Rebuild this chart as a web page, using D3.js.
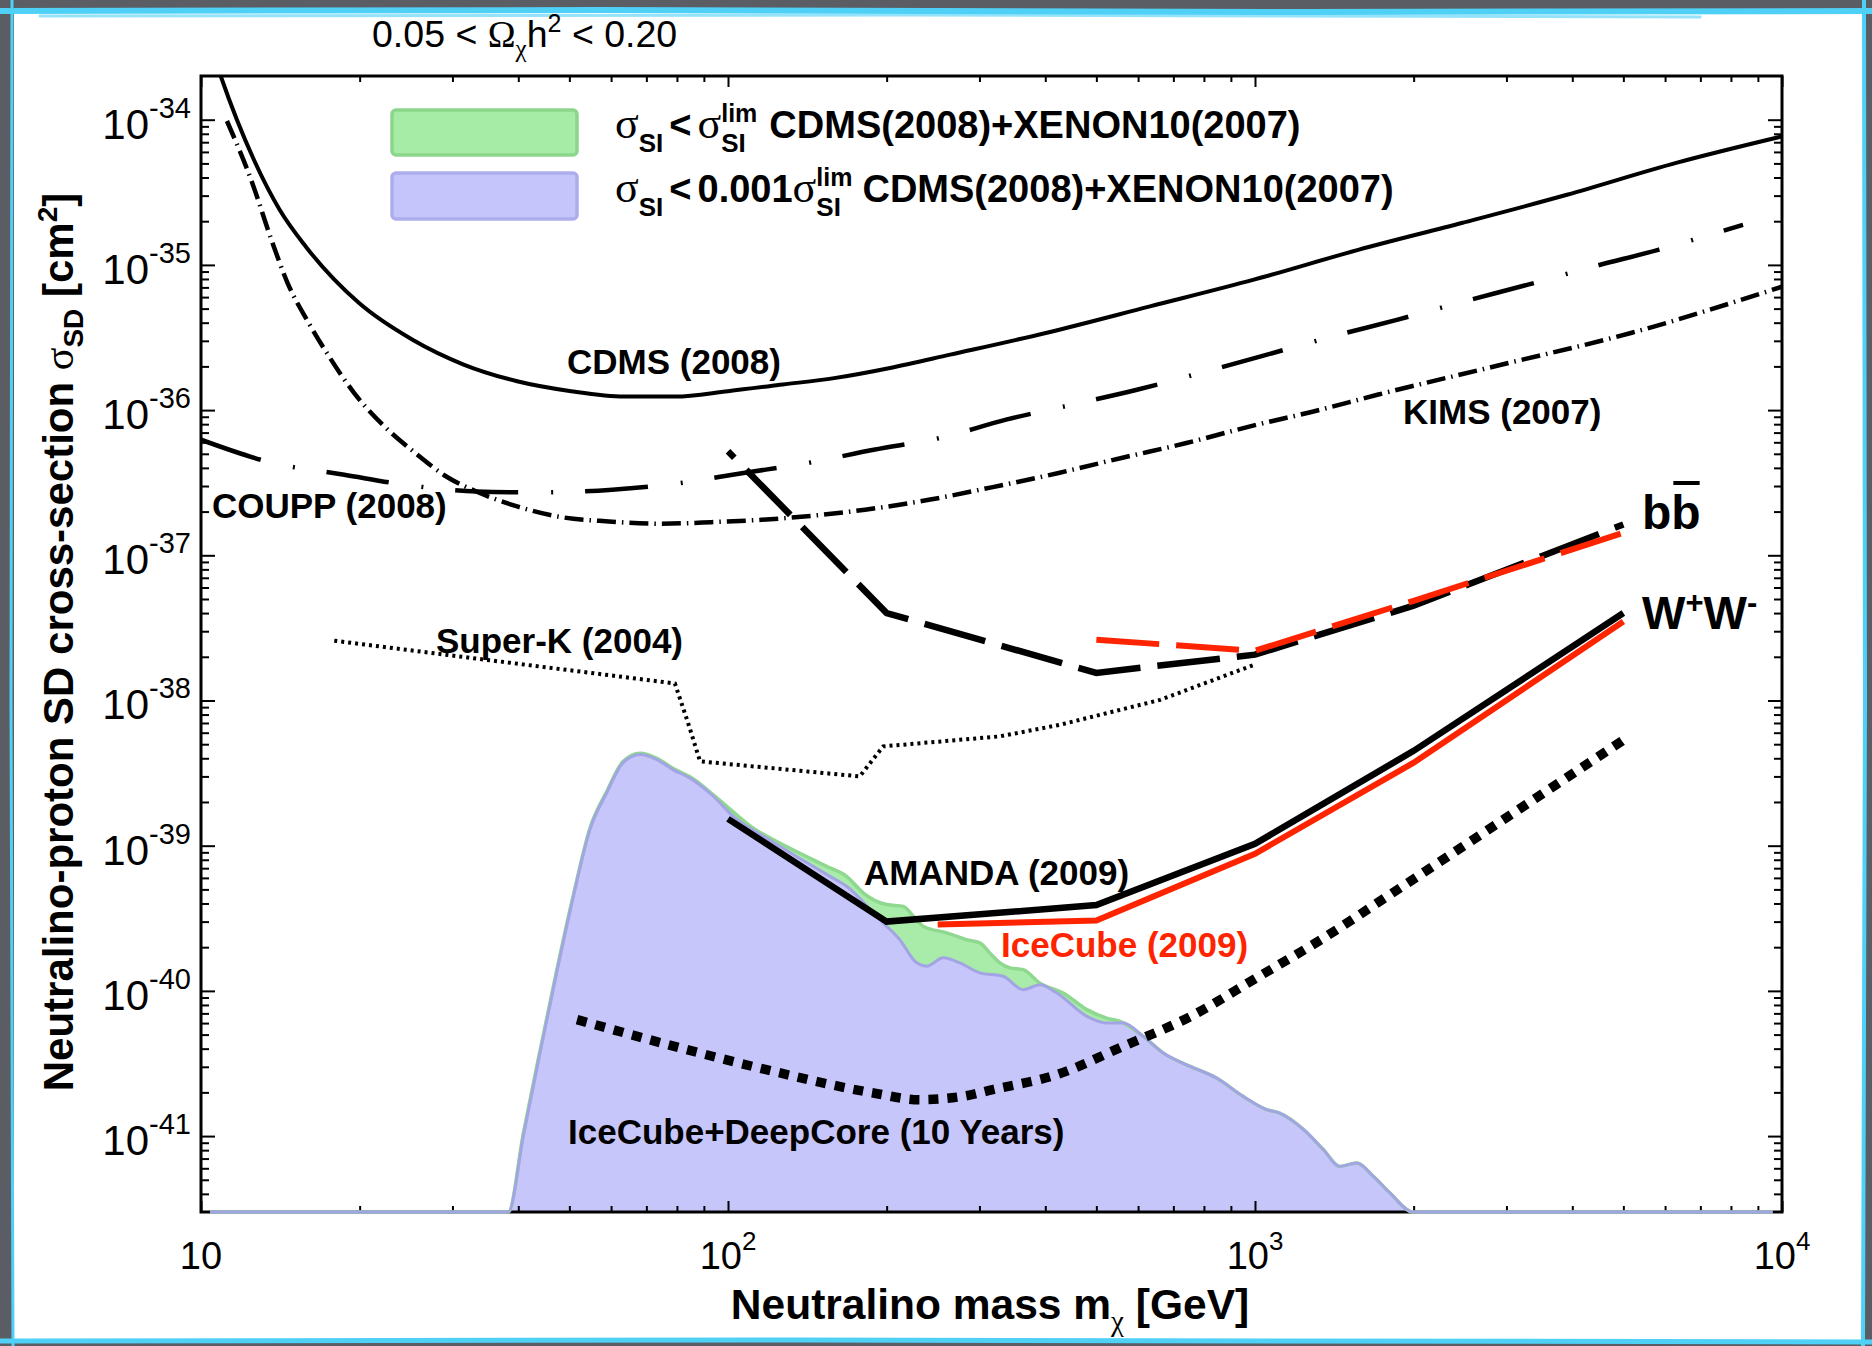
<!DOCTYPE html>
<html>
<head>
<meta charset="utf-8">
<script src="https://d3js.org/d3.v7.min.js"></script>
<style>
  html, body { margin: 0; padding: 0; background: #5a5d63; overflow: hidden; }
  svg { display: block; }
</style>
</head>
<body>
<svg id="chart"></svg>
<script>
// neutralino mass [GeV] and SD cross-section [cm^2]
var cdmsMass  = [10.6, 10.9, 12.6, 14.1, 15.8, 19.9, 25.2, 31.5, 39.8, 50.4, 63.6, 79.4, 100, 127, 159, 203, 264, 401, 632, 995, 1570, 2477, 3908, 6324, 10000];
var cdmsSigma = [2.7e-34, 2.0e-34, 5.3e-35, 2.4e-35, 1.34e-35, 5.5e-36, 3.05e-36, 2.06e-36, 1.58e-36, 1.35e-36, 1.24e-36, 1.24e-36, 1.35e-36, 1.50e-36, 1.66e-36, 1.95e-36, 2.41e-36, 3.40e-36, 5.18e-36, 7.91e-36, 1.27e-35, 1.95e-35, 3.04e-35, 5.06e-35, 7.67e-35];

var couppMass  = [10, 13.6, 18.7, 24.4, 33.3, 44, 60.3, 79.3, 107, 142, 189, 254, 337, 450, 597, 804, 1054, 1400, 1866, 2483, 3296, 4375, 5821, 8433];
var couppSigma = [6.25e-37, 4.35e-37, 3.59e-37, 3.06e-37, 2.75e-37, 2.71e-37, 2.83e-37, 3.11e-37, 3.69e-37, 4.33e-37, 5.33e-37, 6.46e-37, 8.59e-37, 1.09e-36, 1.38e-36, 1.84e-36, 2.41e-36, 3.21e-36, 4.20e-36, 5.58e-36, 7.31e-36, 9.72e-36, 1.27e-35, 1.89e-35];

var kimsMass  = [11.2, 12.5, 13.6, 14.6, 16.0, 17.5, 19.5, 22.3, 25.5, 29.2, 33.3, 39.8, 47.5, 59.4, 74.3, 92.9, 130, 182, 242, 318, 424, 558, 741, 979, 1291, 1714, 2944, 5188, 10000];
var kimsSigma = [9.8e-35, 3.7e-35, 1.49e-35, 7.5e-36, 4.0e-36, 2.34e-36, 1.32e-36, 7.7e-37, 5.07e-37, 3.49e-37, 2.75e-37, 2.17e-37, 1.85e-37, 1.71e-37, 1.65e-37, 1.69e-37, 1.81e-37, 2.06e-37, 2.42e-37, 2.95e-37, 3.69e-37, 4.68e-37, 5.93e-37, 7.73e-37, 9.79e-37, 1.28e-36, 2.06e-36, 3.41e-36, 7.08e-36];

var superKMass  = [17.9, 79.3, 84.0, 88.5, 177.8, 197, 328, 427, 661, 1000];
var superKSigma = [2.58e-38, 1.31e-38, 7.0e-39, 3.81e-39, 3.0e-39, 4.83e-39, 5.66e-39, 6.81e-39, 1.01e-38, 1.77e-38];

var amandaBbMass  = [100, 200, 500, 1000, 2000, 5000];
var amandaBbSigma = [5.2e-37, 4.0e-38, 1.55e-38, 2.07e-38, 4.5e-38, 1.63e-37];
var icecubeBbMass  = [500, 1000, 2000, 5000];
var icecubeBbSigma = [2.62e-38, 2.2e-38, 4.86e-38, 1.43e-37];

var amandaWwMass  = [100, 200, 500, 1000, 2000, 5000];
var amandaWwSigma = [1.53e-39, 3.0e-40, 3.9e-40, 1.03e-39, 4.5e-39, 4.0e-38];
var icecubeWwMass  = [250, 500, 1000, 2000, 5000];
var icecubeWwSigma = [2.86e-40, 3.05e-40, 8.8e-40, 3.73e-39, 3.5e-38];

var deepCoreMass  = [51.7, 81.1, 125.6, 188.8, 231.3, 279.6, 318, 420.7, 562, 753, 1007, 1349, 1803, 2594, 5012];
var deepCoreSigma = [6.34e-41, 4.05e-41, 2.72e-41, 1.98e-41, 1.78e-41, 1.88e-41, 2.09e-41, 2.65e-41, 4.15e-41, 6.64e-41, 1.23e-40, 2.31e-40, 4.6e-40, 1.10e-39, 5.37e-39];

// sigma_SI < sigma_SI^lim region (green) and sigma_SI < 0.001 sigma_SI^lim region (blue)
var greenMass  = [10.4, 38.3, 40.9, 44.0, 47.3, 50.9, 54.7, 58.9, 63.2, 68.1, 73.3, 78.7, 84.7, 93.8, 102.3, 111.7, 125.6, 140.9, 153.8, 167.9, 180.7, 200, 215.1, 224.9, 235, 260, 283.8, 300.6, 314.1, 328.1, 342.8, 363.1, 390.8, 432.5, 479.7, 523.1, 554.6, 613.8, 669.9, 753.4, 845.3, 950.6, 1052, 1114, 1236, 1349, 1449, 1560, 1677, 1803, 1995, 9600];
var greenSigma = [3e-42, 3e-42, 1.05e-41, 3.9e-41, 1.38e-40, 4.6e-40, 1.32e-39, 2.37e-39, 3.8e-39, 4.33e-39, 4.0e-39, 3.4e-39, 2.98e-39, 2.24e-39, 1.71e-39, 1.32e-39, 1.04e-39, 8.43e-40, 7.21e-40, 6.15e-40, 4.72e-40, 3.93e-40, 3.82e-40, 3.26e-40, 2.78e-40, 2.51e-40, 2.25e-40, 2.14e-40, 1.82e-40, 1.56e-40, 1.44e-40, 1.40e-40, 1.13e-40, 9.68e-41, 7.43e-41, 6.5e-41, 6.17e-41, 4.86e-41, 3.73e-41, 3.02e-41, 2.51e-41, 1.87e-41, 1.52e-41, 1.44e-41, 1.11e-41, 8.05e-42, 6.18e-42, 6.53e-42, 5.28e-42, 4.06e-42, 3e-42, 3e-42];
var blueMass  = [10.4, 38.3, 40.9, 44.0, 47.3, 50.9, 54.7, 58.9, 63.2, 68.1, 73.3, 78.7, 84.7, 93.8, 102.3, 116.7, 134.9, 156.1, 167.9, 194.1, 211.8, 228, 238.2, 256.2, 275.4, 300.6, 332.7, 363.1, 390.8, 420.7, 479.7, 523.1, 562.3, 613.8, 669.9, 753.4, 845.3, 950.6, 1052, 1114, 1236, 1349, 1449, 1560, 1677, 1803, 1995, 9600];
var blueSigma = [3e-42, 3e-42, 1.0e-41, 3.75e-41, 1.33e-40, 4.48e-40, 1.29e-39, 2.32e-39, 3.72e-39, 4.24e-39, 3.91e-39, 3.33e-39, 2.92e-39, 2.19e-39, 1.59e-39, 1.16e-39, 8.43e-40, 6.15e-40, 5.25e-40, 3.09e-40, 2.25e-40, 1.56e-40, 1.48e-40, 1.69e-40, 1.56e-40, 1.33e-40, 1.26e-40, 1.02e-40, 1.10e-40, 9.68e-41, 6.67e-41, 6.01e-41, 6.01e-41, 4.86e-41, 3.73e-41, 3.02e-41, 2.51e-41, 1.87e-41, 1.52e-41, 1.44e-41, 1.11e-41, 8.05e-42, 6.18e-42, 6.53e-42, 5.28e-42, 4.06e-42, 3e-42, 3e-42];

// tick labels
var xTickValues = [10, 100, 1000, 10000];
var xTickExps = ['', '2', '3', '4'];
var yTickExps = [-34, -35, -36, -37, -38, -39, -40, -41];

var SANS = "'Liberation Sans', Arial, Helvetica, sans-serif";
var SERIF = "'Liberation Serif', 'Times New Roman', serif";
var RED = '#ff2400';

var svg = d3.select('#chart').attr('width', 1872).attr('height', 1346);

// slide backdrop
svg.append('rect').attr('width', 1872).attr('height', 1346).attr('fill', '#5a5d63');
svg.append('rect').attr('x', 14).attr('y', 12).attr('width', 1850).attr('height', 1328).attr('fill', '#fff');
var cyan = svg.append('g').attr('stroke', '#4fd1f7').attr('fill', 'none').attr('stroke-linecap', 'round');
cyan.append('path').attr('d', 'M0,11 L600,10 L1300,12 L1872,11').attr('stroke-width', 6);
cyan.append('path').attr('d', 'M40,16 L900,15 L1700,17').attr('stroke-width', 3).attr('opacity', 0.6);
cyan.append('path').attr('d', 'M0,1341 L800,1340 L1872,1342').attr('stroke-width', 5);
cyan.append('path').attr('d', 'M12,0 L11,700 L13,1346').attr('stroke-width', 3);
cyan.append('path').attr('d', 'M1864,0 L1865,700 L1863,1346').attr('stroke-width', 4);

var x = d3.scaleLog().domain([10, 1e4]).range([201, 1782]);
var y = d3.scaleLog().domain([3e-42, 2e-34]).range([1212, 76]);
var X0 = x.range()[0], X1 = x.range()[1], Y0 = y.range()[0], Y1 = y.range()[1];

var defs = svg.append('defs');
defs.append('clipPath').attr('id', 'plotClip').append('rect')
  .attr('x', X0).attr('y', Y1).attr('width', X1 - X0).attr('height', Y0 - Y1);
defs.append('clipPath').attr('id', 'edgeClip').append('rect')
  .attr('x', X0).attr('y', Y1).attr('width', X1 - X0).attr('height', Y0 - Y1 + 3);

var line = d3.line().x(d => x(d[0])).y(d => y(d[1]));
var smooth = d3.line().x(d => x(d[0])).y(d => y(d[1])).curve(d3.curveMonotoneX);
var area = d3.area().x(d => x(d[0])).y0(Y0).y1(d => y(d[1])).curve(d3.curveMonotoneX);

// filled regions
var fills = svg.append('g').attr('clip-path', 'url(#plotClip)');
fills.append('path').datum(d3.zip(greenMass, greenSigma)).attr('d', area).attr('fill', '#a9eba9');
fills.append('path').datum(d3.zip(blueMass, blueSigma)).attr('d', area).attr('fill', '#c6c6fb');

// ticks on all four sides, pointing inwards
var isMajor = v => Math.abs(Math.log10(v) - Math.round(Math.log10(v))) < 1e-9;
function ticks(g, attr, major, minor) {
  g.select('.domain').remove();
  g.selectAll('.tick line').attr(attr, d => isMajor(d) ? major : minor).attr('stroke-width', 2);
}
svg.append('g').attr('transform', 'translate(0,' + Y0 + ')')
  .call(d3.axisBottom(x).tickFormat('')).call(g => ticks(g, 'y2', -11, -6));
svg.append('g').attr('transform', 'translate(0,' + Y1 + ')')
  .call(d3.axisTop(x).tickFormat('')).call(g => ticks(g, 'y2', 11, 6));
svg.append('g').attr('transform', 'translate(' + X0 + ',0)')
  .call(d3.axisLeft(y).tickFormat('')).call(g => ticks(g, 'x2', 14, 8));
svg.append('g').attr('transform', 'translate(' + X1 + ',0)')
  .call(d3.axisRight(y).tickFormat('')).call(g => ticks(g, 'x2', -14, -8));
svg.append('rect').attr('x', X0).attr('y', Y1).attr('width', X1 - X0).attr('height', Y0 - Y1)
  .attr('fill', 'none').attr('stroke', '#000').attr('stroke-width', 3);

// region outlines (drawn over the axis like the original)
var edges = svg.append('g').attr('clip-path', 'url(#edgeClip)').attr('fill', 'none');
edges.append('path').datum(d3.zip(greenMass, greenSigma)).attr('d', smooth)
  .attr('stroke', '#8fd88f').attr('stroke-width', 3.5);
edges.append('path').datum(d3.zip(blueMass, blueSigma)).attr('d', smooth)
  .attr('stroke', '#a3a4e4').attr('stroke-width', 3);

// limit curves
var curves = svg.append('g').attr('clip-path', 'url(#plotClip)').attr('fill', 'none');
function curve(m, s, gen, color, w, dash, offset) {
  curves.append('path').datum(d3.zip(m, s)).attr('d', gen)
    .attr('stroke', color).attr('stroke-width', w)
    .attr('stroke-dasharray', dash || null).attr('stroke-dashoffset', offset || 0);
}
curve(cdmsMass, cdmsSigma, smooth, '#000', 4);
curve(couppMass, couppSigma, smooth, '#000', 4.5, '63,33,2,32');
curve(kimsMass, kimsSigma, smooth, '#000', 4.5, '19,6,1.5,6');
curve(superKMass, superKSigma, line, '#000', 4, '3,4');
curve(amandaBbMass, amandaBbSigma, line, '#000', 6.5, '63,17', 54);
curve(icecubeBbMass, icecubeBbSigma, line, RED, 6, '63,17');
curve(amandaWwMass, amandaWwSigma, line, '#000', 6.5);
curve(icecubeWwMass, icecubeWwSigma, line, RED, 6);
curve(deepCoreMass, deepCoreSigma, smooth, '#000', 9.5, '10,9');

// tick labels
var xl = svg.append('g').attr('font-family', SANS).attr('font-size', 38).attr('text-anchor', 'middle');
xTickValues.forEach(function (v, i) {
  var t = xl.append('text').attr('x', x(v)).attr('y', Y0 + 57).text('10');
  if (xTickExps[i]) t.append('tspan').attr('font-size', 26).attr('dy', -19).text(xTickExps[i]);
});
var yl = svg.append('g').attr('font-family', SANS).attr('font-size', 42).attr('text-anchor', 'end');
yTickExps.forEach(function (e) {
  var t = yl.append('text').attr('x', 191).attr('y', y(Math.pow(10, e)) + 19).text('10');
  t.append('tspan').attr('font-size', 29).attr('dy', -21).text(String(e));
});

// axis titles
var yt = svg.append('text').attr('transform', 'translate(73,642) rotate(-90)')
  .attr('text-anchor', 'middle').attr('font-family', SANS).attr('font-weight', 'bold').attr('font-size', 42);
yt.append('tspan').text('Neutralino-proton SD cross-section ');
yt.append('tspan').attr('font-family', SERIF).attr('font-weight', 'normal').text('σ');
yt.append('tspan').attr('font-size', 28).attr('dy', 10).text('SD');
yt.append('tspan').attr('dy', -10).text(' [cm');
yt.append('tspan').attr('font-size', 28).attr('dy', -16).text('2');
yt.append('tspan').attr('dy', 16).text(']');

var xt = svg.append('text').attr('x', 990).attr('y', 1319)
  .attr('text-anchor', 'middle').attr('font-family', SANS).attr('font-weight', 'bold').attr('font-size', 42.5);
xt.append('tspan').text('Neutralino mass m');
xt.append('tspan').attr('font-family', SERIF).attr('font-weight', 'normal').attr('font-size', 29).attr('dy', 12).text('χ');
xt.append('tspan').attr('dy', -12).text(' [GeV]');

var tt = svg.append('text').attr('x', 372).attr('y', 47).attr('font-family', SANS).attr('font-size', 37.5);
tt.append('tspan').text('0.05 < ');
tt.append('tspan').attr('font-family', SERIF).text('Ω');
tt.append('tspan').attr('font-family', SERIF).attr('font-size', 25).attr('dy', 10).text('χ');
tt.append('tspan').attr('dy', -10).text('h');
tt.append('tspan').attr('font-size', 25).attr('dy', -15).text('2');
tt.append('tspan').attr('dy', 15).text(' < 0.20');

// legend
var leg = svg.append('g');
leg.append('rect').attr('x', 392).attr('y', 110).attr('width', 185).attr('height', 45).attr('rx', 4)
  .attr('fill', '#a6eba6').attr('stroke', '#8cd68c').attr('stroke-width', 3.5);
leg.append('rect').attr('x', 392).attr('y', 173).attr('width', 185).attr('height', 46).attr('rx', 4)
  .attr('fill', '#c5c5fb').attr('stroke', '#adadee').attr('stroke-width', 3.5);

function richText(g, x0, y0, parts) {
  var cx = x0, lastStart = x0, lastW = 0;
  parts.forEach(function (p) {
    var sx = (p.stack ? lastStart : cx) + (p.dx || 0);
    var t = g.append('text').attr('x', sx).attr('y', y0 + (p.dy || 0))
      .attr('font-family', p.serif ? SERIF : SANS).attr('font-weight', p.serif ? 'normal' : 'bold')
      .attr('font-size', p.size).text(p.t);
    var w = t.node().getComputedTextLength();
    if (p.stack) { cx = sx + Math.max(lastW, w); }
    else { lastStart = sx; lastW = w; cx = sx + w; }
  });
}
richText(leg, 615, 138, [
  {t: 'σ', size: 44, serif: true},
  {t: 'SI', size: 26, dy: 14},
  {t: '<', size: 38, dx: 6},
  {t: 'σ', size: 44, serif: true, dx: 6},
  {t: 'lim', size: 25, dy: -16},
  {t: 'SI', size: 26, dy: 14, stack: true},
  {t: 'CDMS(2008)+XENON10(2007)', size: 38, dx: 12}
]);
richText(leg, 615, 202, [
  {t: 'σ', size: 44, serif: true},
  {t: 'SI', size: 26, dy: 14},
  {t: '<', size: 38, dx: 6},
  {t: '0.001', size: 38, dx: 6},
  {t: 'σ', size: 44, serif: true},
  {t: 'lim', size: 25, dy: -16},
  {t: 'SI', size: 26, dy: 14, stack: true},
  {t: 'CDMS(2008)+XENON10(2007)', size: 38, dx: 10}
]);

// curve labels
var labels = svg.append('g').attr('font-family', SANS).attr('font-weight', 'bold').attr('font-size', 35);
labels.append('text').attr('x', 567).attr('y', 374).text('CDMS (2008)');
labels.append('text').attr('x', 212).attr('y', 518).text('COUPP (2008)');
labels.append('text').attr('x', 1403).attr('y', 424).text('KIMS (2007)');
labels.append('text').attr('x', 436).attr('y', 653).text('Super-K (2004)');
labels.append('text').attr('x', 864).attr('y', 885).text('AMANDA (2009)');
labels.append('text').attr('x', 1001).attr('y', 957).attr('fill', RED).text('IceCube (2009)');
labels.append('text').attr('x', 568).attr('y', 1144).text('IceCube+DeepCore (10 Years)');

var bb = labels.append('text').attr('x', 1642).attr('y', 529).attr('font-size', 48).text('bb');
var bbNode = bb.node();
var b1 = bbNode.getSubStringLength(0, 1), bAll = bbNode.getComputedTextLength();
labels.append('line').attr('x1', 1642 + b1 + 2).attr('x2', 1642 + bAll - 1)
  .attr('y1', 483).attr('y2', 483).attr('stroke', '#000').attr('stroke-width', 4);

var ww = labels.append('text').attr('x', 1642).attr('y', 629).attr('font-size', 46);
ww.append('tspan').text('W');
ww.append('tspan').attr('font-size', 31).attr('dy', -16).text('+');
ww.append('tspan').attr('dy', 16).text('W');
ww.append('tspan').attr('font-size', 31).attr('dy', -16).text('-');
</script>
</body>
</html>
